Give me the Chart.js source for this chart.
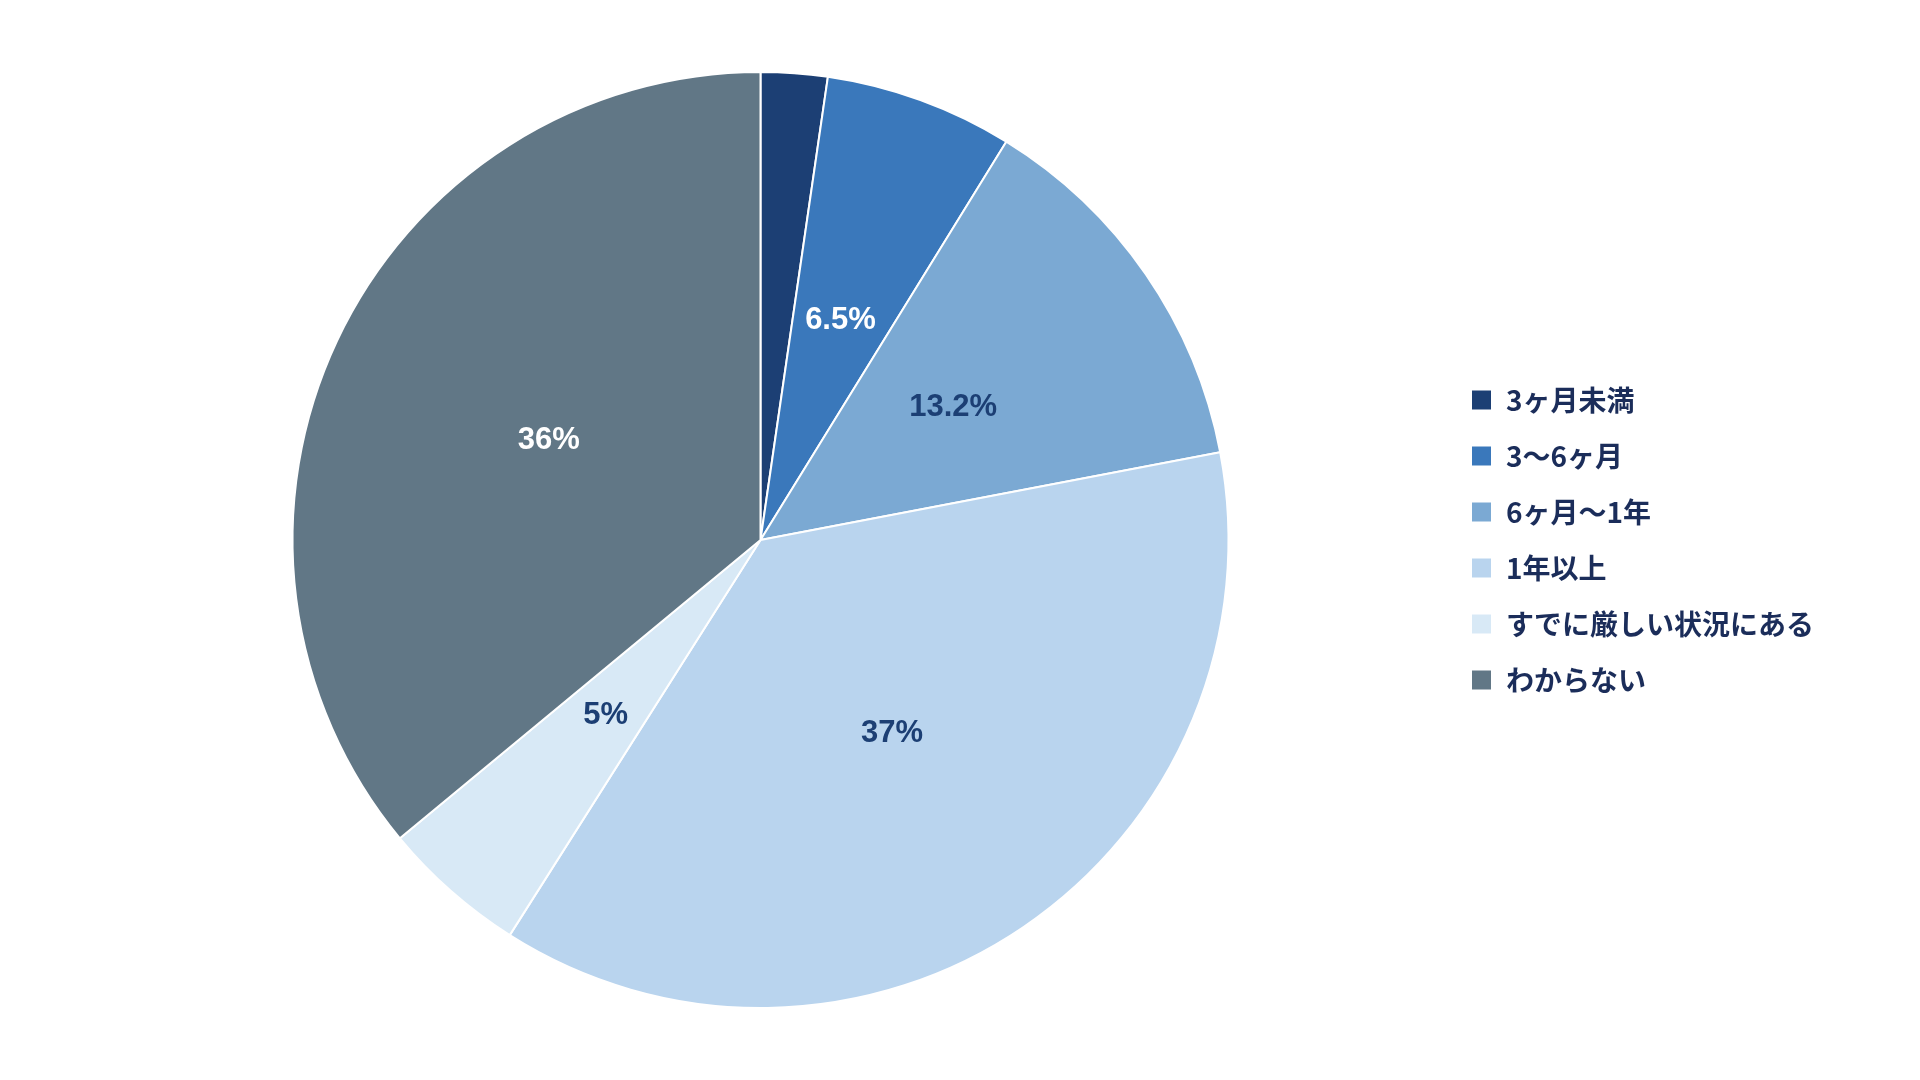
<!DOCTYPE html>
<html lang="ja">
<head>
<meta charset="utf-8">
<title>円グラフ</title>
<script src="https://cdn.jsdelivr.net/npm/chart.js@4.4.1/dist/chart.umd.min.js"></script>
<style>
    html, body { margin: 0; padding: 0; background: #ffffff; }
    #wrap { width: 1920px; height: 1080px; position: relative; }
</style>
</head>
<body>
<div id="wrap"><canvas id="graficoPie"></canvas></div>
<script>
// --- datos ---
const categorias = [
    '3ヶ月未満',
    '3～6ヶ月',
    '6ヶ月～1年',
    '1年以上',
    'すでに厳しい状況にある',
    'わからない'
];

const valores = [2.3, 6.5, 13.2, 37, 5, 36];

const colores = ['#1c3f74', '#3a78bb', '#7ba9d3', '#b9d4ee', '#d8e9f6', '#617786'];

// color del texto de cada porcentaje
const coloresEtiqueta = ['#ffffff', '#ffffff', '#1c3f74', '#1c3f74', '#1c3f74', '#ffffff'];

// --- etiquetas de porcentaje dentro de cada sector ---
const etiquetasSector = {
    id: 'etiquetasSector',
    afterDatasetsDraw(chart) {
        const ctx = chart.ctx;
        const meta = chart.getDatasetMeta(0);
        ctx.save();
        ctx.font = 'bold 31px "Liberation Sans", Arial, sans-serif';
        ctx.textAlign = 'center';
        ctx.textBaseline = 'middle';
        meta.data.forEach((arc, i) => {
            const v = valores[i];
            if (v < 3) return; // el sector pequeño no lleva texto
            const p = arc.getCenterPoint();
            ctx.fillStyle = coloresEtiqueta[i];
            ctx.fillText(v + '%', p.x, p.y);
        });
        ctx.restore();
    }
};

const ctx = document.getElementById('graficoPie').getContext('2d');

const grafico = new Chart(ctx, {
    type: 'pie',
    data: {
        labels: categorias,
        datasets: [{
            data: valores,
            backgroundColor: colores,
            borderColor: '#ffffff',
            borderWidth: 2
        }]
    },
    options: {
        responsive: true,
        maintainAspectRatio: false,
        animation: false,
        layout: {
            padding: { left: 78, right: 96, top: 71, bottom: 71 }
        },
        plugins: {
            tooltip: { enabled: false },
            legend: {
                position: 'right',
                align: 'center',
                labels: {
                    boxWidth: 21,
                    boxHeight: 21,
                    padding: 28,
                    color: '#1b2d5a',
                    font: {
                        family: '"Noto Sans CJK JP", "Noto Sans", sans-serif',
                        size: 28,
                        weight: 'bold'
                    }
                }
            }
        }
    },
    plugins: [etiquetasSector]
});
</script>
</body>
</html>
